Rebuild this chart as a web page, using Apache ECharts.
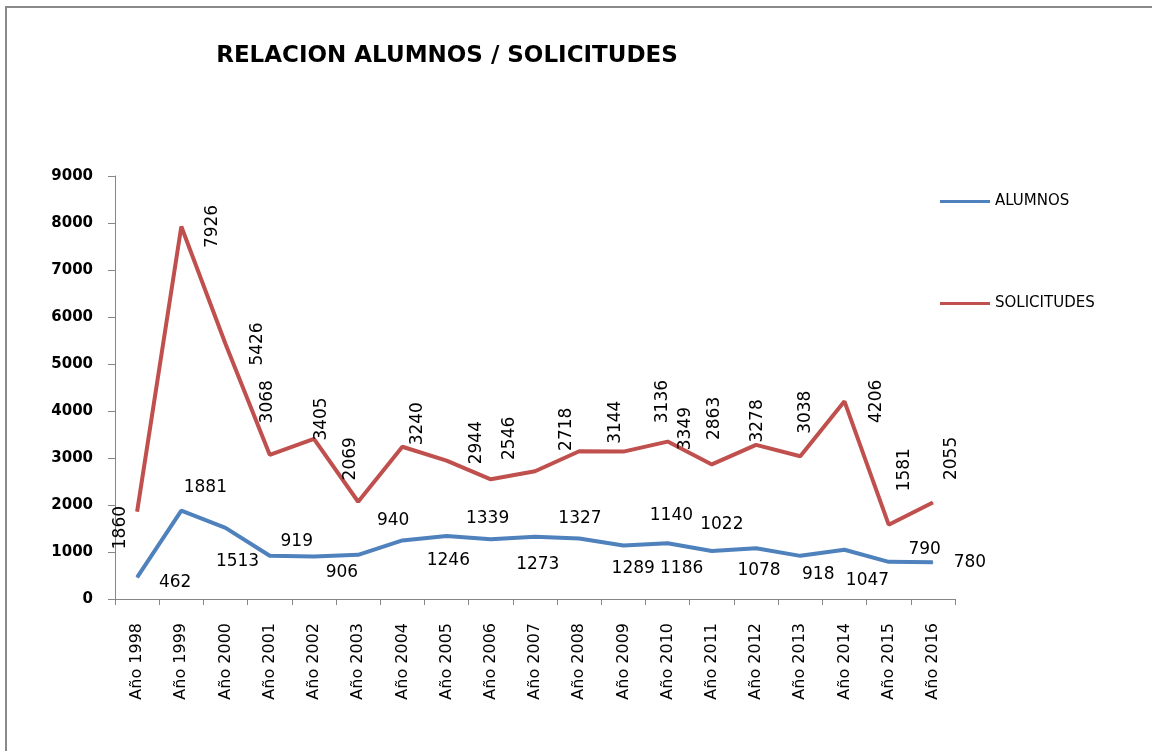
<!DOCTYPE html>
<html>
<head>
<meta charset="utf-8">
<title>Relacion alumnos / solicitudes</title>
<script src="https://cdn.jsdelivr.net/npm/echarts@6/dist/echarts.min.js"></script>
<style>
  html, body { margin: 0; padding: 0; background: #fff; }
  /* marco gris del grafico (solo arriba e izquierda visibles) */
  .frame {
    position: absolute; left: 5px; top: 6px; width: 1160px; height: 760px;
    border-top: 2px solid #8a8a8a; border-left: 2px solid #8a8a8a;
  }
  #chart { position: absolute; left: 0; top: 0; width: 1152px; height: 751px; }
</style>
</head>
<body>
<div class="frame"></div>
<div id="chart"></div>
<script>
// datos
const years = ["Año 1998", "Año 1999", "Año 2000", "Año 2001", "Año 2002", "Año 2003", "Año 2004",
  "Año 2005", "Año 2006", "Año 2007", "Año 2008", "Año 2009", "Año 2010", "Año 2011",
  "Año 2012", "Año 2013", "Año 2014", "Año 2015", "Año 2016"];
const alumnos = [462, 1881, 1513, 919, 906, 940, 1246, 1339, 1273, 1327, 1289, 1140, 1186, 1022, 1078, 918, 1047, 790, 780];
const solicitudes = [1860, 7926, 5426, 3068, 3405, 2069, 3240, 2944, 2546, 2718, 3144, 3136, 3349, 2863, 3278, 3038, 4206, 1581, 2055];
const yTicks = [0, 1000, 2000, 3000, 4000, 5000, 6000, 7000, 8000, 9000];

// desplazamiento de las etiquetas en pantalla [dx, dy] (como quedaron en el Excel)
const alumnosLabelOffset = [[38, 5], [24, -23], [12, 34], [27, -14], [28, 16], [35, -34], [46, 20],
  [41, -17], [47, 25], [45, -18], [54, 30], [48, -30], [14, 25], [10, -26], [3, 22], [18, 19],
  [23, 31], [36, -12], [37, 0]];
const solicitudesLabelOffset = [[-17, 16], [31, 0], [32, 0], [-2, -53], [8, -20], [-8, -43], [15, -23],
  [30, -18], [19, -41], [32, -42], [36, -29], [39, -50], [18, -13], [3, -46], [2, -24], [5, -44],
  [32, 0], [16, -55], [19, -44]];

const chart = echarts.init(document.getElementById("chart"));

// el offset de una etiqueta girada 90 grados va en coordenadas locales del texto
function withLabels(values, offsets, rotated) {
  return values.map((v, i) => {
    const o = offsets[i];
    return { value: v, label: { offset: rotated ? [-o[1], o[0]] : o } };
  });
}

const labelFont = { fontFamily: "DejaVu Sans", fontSize: 17, color: "#000" };

let option = {
  animation: false,
  title: {
    text: "RELACION ALUMNOS / SOLICITUDES",
    left: 442,
    top: 40,
    textAlign: "center",
    textStyle: { fontFamily: "DejaVu Sans", fontWeight: "bold", fontSize: 23, color: "#000" }
  },
  legend: {
    orient: "vertical",
    left: 940,
    top: 194,
    padding: 0,
    itemGap: 87,
    itemWidth: 50,
    itemHeight: 3,
    icon: "rect",
    textStyle: { fontFamily: "DejaVu Sans", fontSize: 15, color: "#000" },
    data: ["ALUMNOS", "SOLICITUDES"]
  },
  grid: { left: 115, right: 197, top: 176, bottom: 152 },
  xAxis: {
    type: "category",
    data: years,
    boundaryGap: true,
    axisLine: { lineStyle: { color: "#868686", width: 1 } },
    axisTick: { show: true, length: 6, interval: 0, lineStyle: { color: "#868686" } },
    axisLabel: {
      interval: 0,
      rotate: 90,
      margin: 24,
      fontFamily: "DejaVu Sans",
      fontSize: 16,
      color: "#000"
    }
  },
  yAxis: {
    type: "value",
    min: yTicks[0],
    max: yTicks[yTicks.length - 1],
    interval: 1000,
    splitLine: { show: false },
    axisLine: { show: true, lineStyle: { color: "#868686", width: 1 } },
    axisTick: { show: true, length: 7, lineStyle: { color: "#868686" } },
    axisLabel: {
      margin: 22,
      fontFamily: "DejaVu Sans",
      fontWeight: "bold",
      fontSize: 15,
      color: "#000",
      formatter: v => String(v)
    }
  },
  series: [
    {
      name: "ALUMNOS",
      type: "line",
      data: withLabels(alumnos, alumnosLabelOffset, false),
      symbol: "circle",
      symbolSize: 1,
      showSymbol: true,
      color: "#4f81bd",
      lineStyle: { color: "#4f81bd", width: 4 },
      label: {
        show: true,
        position: "inside",
        align: "center",
        verticalAlign: "middle",
        ...labelFont
      }
    },
    {
      name: "SOLICITUDES",
      type: "line",
      data: withLabels(solicitudes, solicitudesLabelOffset, true),
      symbol: "circle",
      symbolSize: 1,
      showSymbol: true,
      color: "#c0504d",
      lineStyle: { color: "#c0504d", width: 4 },
      label: {
        show: true,
        position: "inside",
        rotate: 90,
        align: "center",
        verticalAlign: "middle",
        ...labelFont
      }
    }
  ]
};
chart.setOption(option);
</script>
</body>
</html>
